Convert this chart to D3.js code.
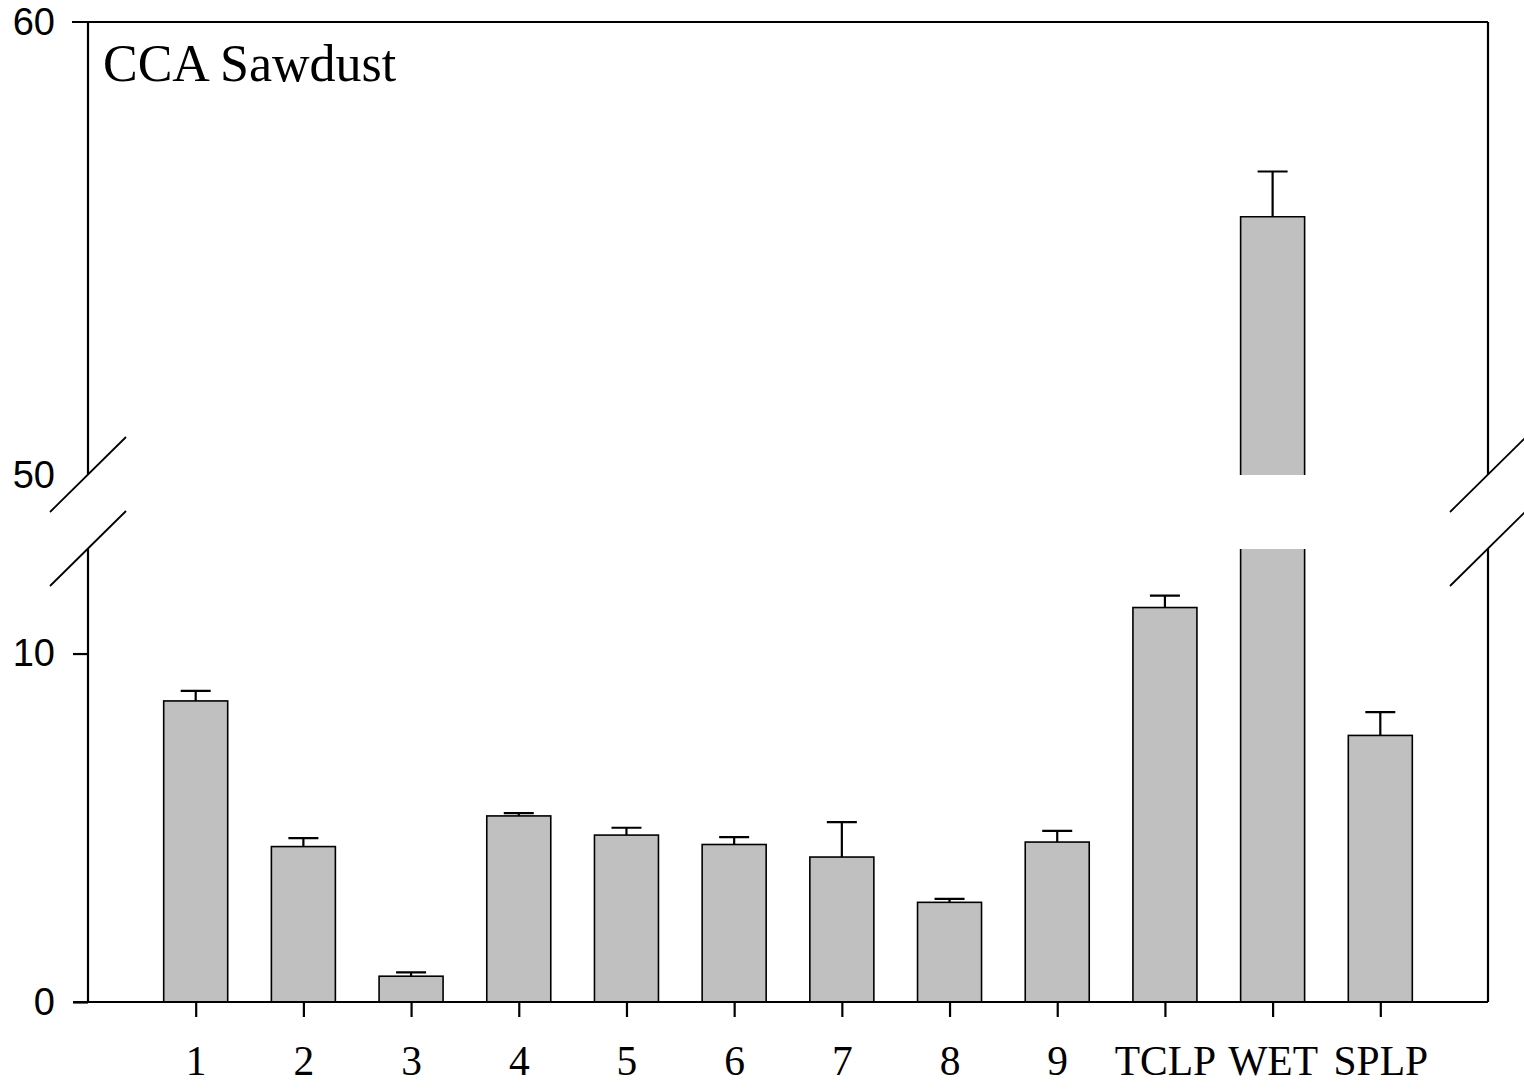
<!DOCTYPE html>
<html>
<head>
<meta charset="utf-8">
<script src="https://cdn.jsdelivr.net/npm/d3@7"></script>
<style>
  html, body { margin: 0; padding: 0; background: #fff; }
  svg { display: block; }
</style>
</head>
<body>
<svg id="chart" width="1524" height="1091"></svg>
<script>
// ---- data ----
const categories = ["1", "2", "3", "4", "5", "6", "7", "8", "9", "TCLP", "WET", "SPLP"];
const means  = [8.64, 4.46, 0.74, 5.34, 4.79, 4.52, 4.16, 2.86, 4.59, 11.32, 55.70, 7.65];
const errors = [0.29, 0.24, 0.11, 0.08, 0.21, 0.21, 1.00, 0.10, 0.32, 0.34, 1.00, 0.67];
const lowerDomain = [0, 13];
const upperDomain = [50, 60];
const lowerTicks = [0, 10];
const upperTicks = [50, 60];
const title = "CCA Sawdust";

(function () {
// ---- layout ----
const pLeft = 88, pRight = 1488;
const pTop = 22, pBottom = 1002;
const lowTop = 549, upBottom = 475;
const barW = 64, capW = 30;

const svg = d3.select("#chart");

const x = d3.scalePoint().domain(categories).range([pLeft, pRight]).padding(1);
const yLow = d3.scaleLinear().domain(lowerDomain).range([pBottom, lowTop]);
const yUp = d3.scaleLinear().domain(upperDomain).range([upBottom, pTop]);

const data = categories.map((c, i) => ({ c, m: means[i], e: errors[i] }));
const breakV = lowerDomain[1];

// ---- bars ----
const gBars = svg.append("g");
data.forEach(d => {
  const x0 = x(d.c) - barW / 2, x1 = x(d.c) + barW / 2;
  if (d.m <= breakV) {
    gBars.append("rect")
      .attr("x", x0).attr("y", yLow(d.m))
      .attr("width", barW).attr("height", pBottom - yLow(d.m))
      .attr("fill", "#c0c0c0").attr("stroke", "#000").attr("stroke-width", 1.6);
  } else {
    gBars.append("rect")
      .attr("x", x0).attr("y", lowTop)
      .attr("width", barW).attr("height", pBottom - lowTop)
      .attr("fill", "#c0c0c0");
    gBars.append("path")
      .attr("d", `M${x0},${lowTop}V${pBottom}M${x1},${lowTop}V${pBottom}`)
      .attr("stroke", "#000").attr("stroke-width", 1.6).attr("fill", "none");
    const yt = yUp(d.m);
    gBars.append("rect")
      .attr("x", x0).attr("y", yt)
      .attr("width", barW).attr("height", upBottom - yt)
      .attr("fill", "#c0c0c0");
    gBars.append("path")
      .attr("d", `M${x0},${upBottom}V${yt}H${x1}V${upBottom}`)
      .attr("stroke", "#000").attr("stroke-width", 1.6).attr("fill", "none");
  }
});

// ---- error bars ----
const gErr = svg.append("g").attr("stroke", "#000").attr("stroke-width", 2.2).attr("fill", "none");
data.forEach(d => {
  const sc = d.m <= breakV ? yLow : yUp;
  const cx = x(d.c);
  const y0 = sc(d.m), y1 = sc(d.m + d.e);
  gErr.append("path")
    .attr("d", `M${cx},${y0}V${y1}M${cx - capW / 2},${y1}H${cx + capW / 2}`);
});

// ---- frame ----
const gFrame = svg.append("g").attr("stroke", "#000").attr("stroke-width", 2.2).attr("fill", "none");
gFrame.append("path").attr("d", `M${pLeft - 16},${pTop}H${pRight}`);
gFrame.append("path").attr("d", `M${pLeft - 15},${pBottom}H${pRight}`);
[pLeft, pRight].forEach(ax => {
  gFrame.append("path").attr("d", `M${ax},${pTop}V${upBottom}`);
  gFrame.append("path").attr("d", `M${ax},${lowTop}V${pBottom}`);
  [upBottom, lowTop].forEach(by => {
    gFrame.append("path").attr("d", `M${ax - 38},${by + 37}L${ax + 38},${by - 38}`)
      .attr("stroke-width", 1.8);
  });
});

// ---- y axes ----
function styleY(g, hideTicks) {
  g.select(".domain").remove();
  g.selectAll(".tick line").attr("stroke", "#000").attr("stroke-width", 2.2);
  g.selectAll(".tick").filter(v => hideTicks.includes(v)).select("line").remove();
  g.selectAll(".tick text")
    .attr("font-family", "'Liberation Sans', Arial, sans-serif")
    .attr("font-size", 38).attr("fill", "#000");
}
svg.append("g").attr("transform", `translate(${pLeft},0)`)
  .call(d3.axisLeft(yLow).tickValues(lowerTicks).tickSize(15).tickPadding(18).tickFormat(d3.format("d")))
  .call(g => styleY(g, []));
svg.append("g").attr("transform", `translate(${pLeft},0)`)
  .call(d3.axisLeft(yUp).tickValues(upperTicks).tickSize(15).tickPadding(18).tickFormat(d3.format("d")))
  .call(g => styleY(g, [50, 60]));

// ---- x axis ----
svg.append("g").attr("transform", `translate(0,${pBottom})`)
  .call(d3.axisBottom(x).tickSize(15).tickPadding(29))
  .call(g => {
    g.select(".domain").remove();
    g.selectAll(".tick line").attr("stroke", "#000").attr("stroke-width", 2.2);
    g.selectAll(".tick text")
      .attr("font-family", "'Liberation Serif', 'Times New Roman', serif")
      .attr("font-size", 41.5).attr("fill", "#000");
  });

// ---- title ----
svg.append("text")
  .attr("x", 103).attr("y", 81)
  .attr("font-family", "'Liberation Serif', 'Times New Roman', serif")
  .attr("font-size", 52).attr("fill", "#000")
  .text(title);
})();
</script>
</body>
</html>
